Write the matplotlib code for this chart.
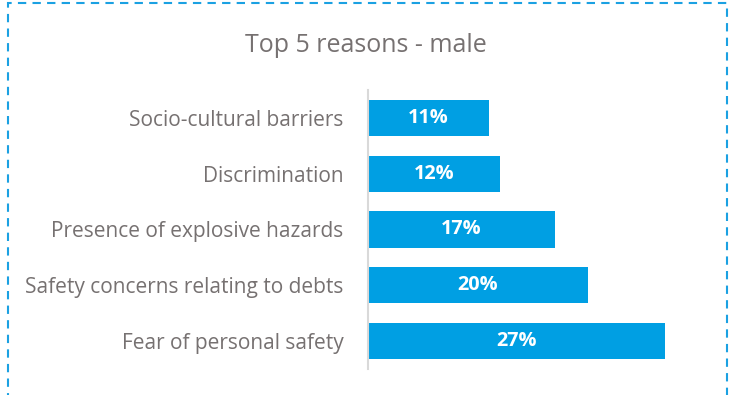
import matplotlib
matplotlib.use("Agg")
import matplotlib.pyplot as plt
from matplotlib.patches import Rectangle

categories = ["Socio-cultural barriers", "Discrimination", "Presence of explosive hazards",
              "Safety concerns relating to debts", "Fear of personal safety"]
values = [11, 12, 17, 20, 27]
labels = ["11%", "12%", "17%", "20%", "27%"]

plt.rcParams['font.family'] = ['Open Sans', 'DejaVu Sans']
W, H = 729, 395
fig = plt.figure(figsize=(W/100, H/100), dpi=100)
ax = fig.add_axes([368/W, 1-369/H, 330/W, 279/H])

ys = list(range(len(categories)))
ax.barh(ys, values, height=0.65, color="#009FE3")
ax.set_ylim(len(categories)-0.5, -0.5)
ax.set_xlim(0, 30)
ax.set_yticks(ys)
ax.set_yticklabels(categories, fontsize=15, color="#767171")
ax.tick_params(axis='y', length=0, pad=17.5)
ax.set_xticks([])
for s in ["top", "right", "bottom"]:
    ax.spines[s].set_visible(False)
ax.spines["left"].set_color("#D9D9D9")
ax.spines["left"].set_linewidth(1.5)
for y, v, l in zip(ys, values, labels):
    ax.text(v/2, y, l, ha="center", va="center", color="white", fontsize=14.3, fontweight="bold")

fig.text(366/W, 1-45/H, "Top 5 reasons - male", ha="center", va="center", fontsize=18, color="#767171")

rect = Rectangle((8/W, -0.1), 719/W, 1-3/H+0.1, transform=fig.transFigure, fill=False,
                 edgecolor="#1BA1E2", linewidth=1.5, linestyle=(0, (4, 3)))
fig.patches.append(rect)

fig.savefig("out.png", dpi=100)
